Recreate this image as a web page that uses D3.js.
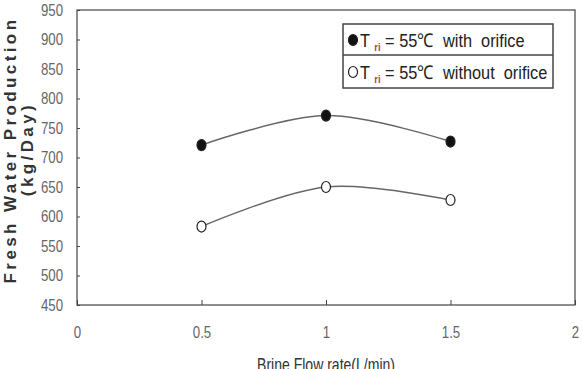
<!DOCTYPE html>
<html>
<head>
<meta charset="utf-8">
<script src="https://cdn.jsdelivr.net/npm/d3@7"></script>
<style>
  body { margin: 0; background: #fff; }
  svg text { font-family: "Liberation Sans", Arial, sans-serif; }
</style>
</head>
<body>
<svg id="chart" width="583" height="369"></svg>
<script>
// Brine flow rate (L/min) and fresh water production (kg/Day)
const flowRates = [0.5, 1, 1.5];
const withOrifice = [721, 771, 727];
const withoutOrifice = [583, 650, 628];
const xTicks = [0, 0.5, 1, 1.5, 2];
const yTicks = [450, 500, 550, 600, 650, 700, 750, 800, 850, 900, 950];

const svg = d3.select('#chart');
const margin = { left: 77, top: 10, right: 8, bottom: 64 };
const width = 583 - margin.left - margin.right;
const height = 369 - margin.top - margin.bottom;
const narrow = 0.78; // horizontal squeeze to mimic the narrow font

const x = d3.scaleLinear().domain([0, 2]).range([0, width]);
const y = d3.scaleLinear().domain([450, 950]).range([height, 0]);

const g = svg.append('g').attr('transform', `translate(${margin.left},${margin.top})`);

// Plot frame
g.append('rect')
  .attr('width', width).attr('height', height)
  .attr('fill', 'none').attr('stroke', '#444').attr('stroke-width', 1.2);

// Y axis (ticks inward)
const yAxis = g.append('g')
  .call(d3.axisRight(y).tickValues(yTicks).tickSize(3).tickFormat(d3.format('d')));
yAxis.select('.domain').remove();
yAxis.selectAll('line').attr('stroke', '#444');
yAxis.selectAll('text')
  .attr('x', -14 / narrow).attr('text-anchor', 'end')
  .attr('transform', `scale(${narrow},1)`)
  .attr('fill', '#666').style('font-size', '17px');

// X axis (ticks inward)
const xAxis = g.append('g')
  .attr('transform', `translate(0,${height})`)
  .call(d3.axisTop(x).tickValues(xTicks).tickSize(5).tickFormat(d => d));
xAxis.select('.domain').remove();
xAxis.selectAll('line').attr('stroke', '#444');
xAxis.selectAll('text')
  .attr('y', 27).attr('dy', '0.35em')
  .attr('transform', `scale(${narrow},1)`)
  .attr('fill', '#666').style('font-size', '17px');

// Axis titles
svg.append('text')
  .attr('transform', 'translate(16,150) rotate(-90)')
  .attr('text-anchor', 'middle')
  .style('font-weight', 'bold').style('font-size', '17px')
  .style('letter-spacing', '3.4px')
  .attr('fill', '#333')
  .text('Fresh Water Production');
svg.append('text')
  .attr('transform', 'translate(33,149) rotate(-90)')
  .attr('text-anchor', 'middle')
  .style('font-weight', 'bold').style('font-size', '17px')
  .style('letter-spacing', '3.4px')
  .attr('fill', '#333')
  .text('(kg/Day)');
svg.append('text')
  .attr('transform', `translate(${margin.left + x(1)},371) scale(${narrow},1)`)
  .attr('text-anchor', 'middle')
  .attr('fill', '#333').style('font-size', '18px')
  .text('Brine Flow rate(L/min)');

// Lines
const line = d3.line()
  .x((d, i) => x(flowRates[i]))
  .y(d => y(d))
  .curve(d3.curveCatmullRom.alpha(0.5));

[withOrifice, withoutOrifice].forEach((series, si) => {
  g.append('path')
    .datum(series)
    .attr('d', line)
    .attr('fill', 'none')
    .attr('stroke', '#666')
    .attr('stroke-width', 1.5);
  g.selectAll(null)
    .data(series)
    .enter()
    .append('ellipse')
    .attr('cx', (d, i) => x(flowRates[i]))
    .attr('cy', d => y(d))
    .attr('rx', 4.5).attr('ry', 5.5)
    .attr('fill', si === 0 ? '#111' : '#fff')
    .attr('stroke', '#222').attr('stroke-width', 1.2);
});

// Legend
const legendItems = [
  { label: ' = 55\u2103  with  orifice', filled: true },
  { label: ' = 55\u2103  without  orifice', filled: false }
];
const lg = svg.append('g').attr('transform', 'translate(343,24)');
lg.append('rect')
  .attr('width', 210).attr('height', 64)
  .attr('fill', '#fff').attr('stroke', '#444').attr('stroke-width', 1.5);
lg.append('line')
  .attr('x1', 0).attr('x2', 210).attr('y1', 31).attr('y2', 31)
  .attr('stroke', '#444').attr('stroke-width', 1.5);

const items = lg.selectAll('.item')
  .data(legendItems)
  .enter()
  .append('g')
  .attr('transform', (d, i) => `translate(0,${16 + i * 32})`);
items.append('ellipse')
  .attr('cx', 10).attr('cy', 0).attr('rx', 4.5).attr('ry', 5.5)
  .attr('fill', d => d.filled ? '#111' : '#fff')
  .attr('stroke', '#222').attr('stroke-width', 1.2);
const txt = items.append('text')
  .attr('transform', 'translate(17,0) scale(0.86,1)')
  .attr('dy', '0.35em')
  .attr('fill', '#222').style('font-size', '19px')
  .style('white-space', 'pre');
txt.append('tspan').text('T ');
txt.append('tspan')
  .attr('dy', '4').style('font-size', '11px').style('font-weight', 'bold')
  .attr('fill', '#a0522d').text('ri');
txt.append('tspan')
  .attr('dy', '-4').text(d => d.label);
</script>
</body>
</html>
